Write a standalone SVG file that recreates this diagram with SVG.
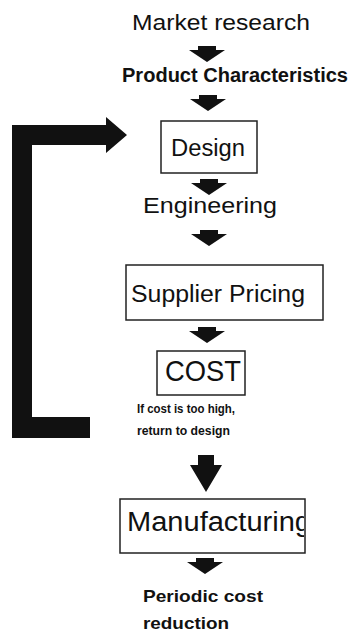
<svg xmlns="http://www.w3.org/2000/svg" width="350" height="634" viewBox="0 0 350 634">
  <style>
    .box { fill: #ffffff; stroke: #222222; stroke-width: 1.5; }
    .lbl { font-family: "Liberation Sans", Arial, sans-serif; fill: #111111; }
    .bold { font-weight: bold; }
    .arrow { fill: #111111; }
  </style>
  <defs>
    <!-- small block arrow pointing down, top-centre at origin -->
    <path id="down" d="M-9,0 H9 V4 H18 L0,16 L-18,4 H-9 Z"/>
    <clipPath id="mfgClip"><rect x="120" y="498" width="184" height="55"/></clipPath>
  </defs>
  <rect width="350" height="634" fill="#ffffff"/>

  <g id="connectors" class="arrow">
    <use href="#down" x="207" y="46"/>
    <use href="#down" x="208" y="95"/>
    <use href="#down" x="209" y="179"/>
    <use href="#down" x="209" y="230"/>
    <use href="#down" x="207" y="327"/>
    <!-- larger arrow from cost check to manufacturing -->
    <path d="M198,455 H214 V465 H222 L206,492 L190,465 H198 Z"/>
    <use href="#down" x="205" y="558"/>
    <!-- feedback loop back to design -->
    <path d="M12,125 H106 V117 L127,135 L106,153 V145 H32 V417 H90 V438 H12 Z"/>
  </g>

  <g id="market-research">
    <text class="lbl" x="132" y="30" font-size="22" textLength="178" lengthAdjust="spacingAndGlyphs">Market research</text>
  </g>
  <g id="product-characteristics">
    <text class="lbl bold" x="122" y="82" font-size="19.5" textLength="226" lengthAdjust="spacingAndGlyphs">Product Characteristics</text>
  </g>
  <g id="design">
    <rect class="box" x="161" y="121" width="96" height="52"/>
    <text class="lbl" x="171" y="156" font-size="23" textLength="74" lengthAdjust="spacingAndGlyphs">Design</text>
  </g>
  <g id="engineering">
    <text class="lbl" x="143" y="213" font-size="22" textLength="134" lengthAdjust="spacingAndGlyphs">Engineering</text>
  </g>
  <g id="supplier-pricing">
    <rect class="box" x="126" y="265" width="197" height="55"/>
    <text class="lbl" x="131" y="302" font-size="23" textLength="174" lengthAdjust="spacingAndGlyphs">Supplier Pricing</text>
  </g>
  <g id="cost">
    <rect class="box" x="157" y="351" width="88" height="44"/>
    <text class="lbl" x="165" y="381" font-size="30" textLength="76" lengthAdjust="spacingAndGlyphs">COST</text>
  </g>
  <g id="cost-note">
    <text class="lbl bold" x="137" y="413" font-size="12.5" textLength="98" lengthAdjust="spacingAndGlyphs">If cost is too high,</text>
    <text class="lbl bold" x="137" y="435" font-size="12.5" textLength="93" lengthAdjust="spacingAndGlyphs">return to design</text>
  </g>
  <g id="manufacturing">
    <rect class="box" x="120" y="499" width="185" height="54"/>
    <text class="lbl" x="127" y="531" font-size="27" textLength="184" lengthAdjust="spacingAndGlyphs" clip-path="url(#mfgClip)">Manufacturing</text>
  </g>
  <g id="periodic-cost-reduction">
    <text class="lbl bold" x="143" y="602" font-size="17" textLength="120" lengthAdjust="spacingAndGlyphs">Periodic cost</text>
    <text class="lbl bold" x="143" y="629" font-size="17" textLength="86" lengthAdjust="spacingAndGlyphs">reduction</text>
  </g>
</svg>
